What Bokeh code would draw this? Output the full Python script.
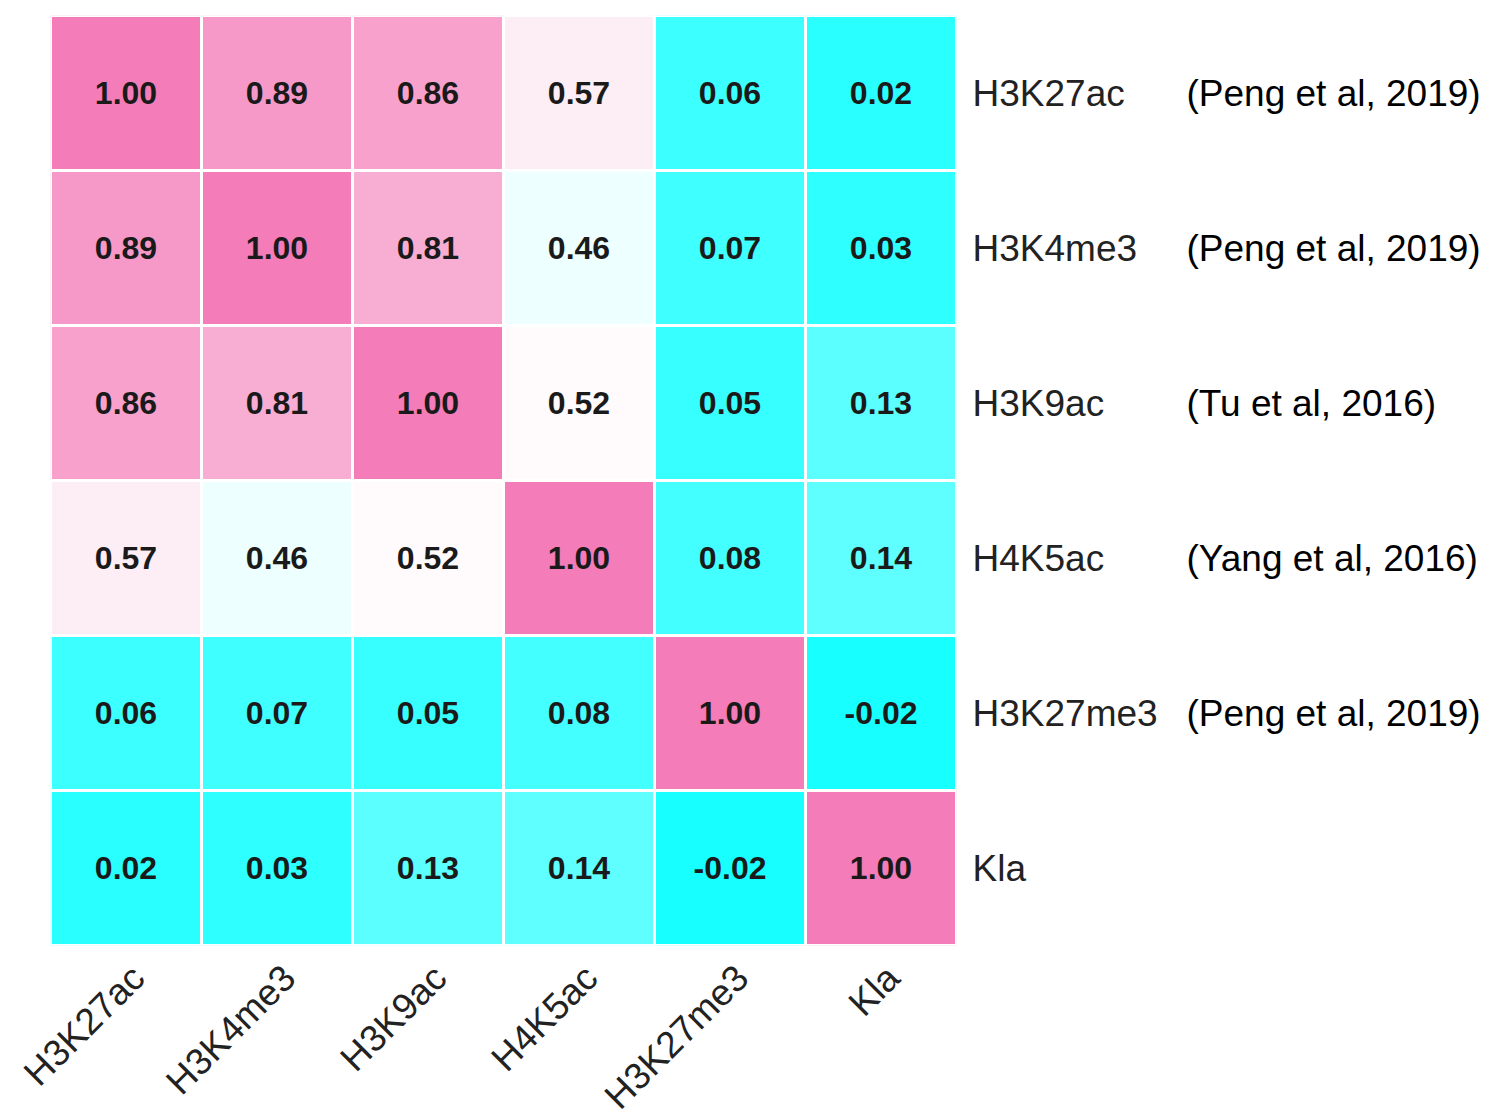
import numpy as np
from math import pi
from bokeh.plotting import figure
from bokeh.models import ColumnDataSource, Range1d, FixedTicker, LinearAxis
from bokeh.core.properties import value
from bokeh.embed import file_html
from bokeh.resources import INLINE

marks = ["H3K27ac", "H3K4me3", "H3K9ac", "H4K5ac", "H3K27me3", "Kla"]
corr = [
    [1.00, 0.89, 0.86, 0.57, 0.06, 0.02],
    [0.89, 1.00, 0.81, 0.46, 0.07, 0.03],
    [0.86, 0.81, 1.00, 0.52, 0.05, 0.13],
    [0.57, 0.46, 0.52, 1.00, 0.08, 0.14],
    [0.06, 0.07, 0.05, 0.08, 1.00, -0.02],
    [0.02, 0.03, 0.13, 0.14, -0.02, 1.00],
]
citations = ["(Peng et al, 2019)", "(Peng et al, 2019)", "(Tu et al, 2016)",
             "(Yang et al, 2016)", "(Peng et al, 2019)", ""]

# diverging colour scale: cyan -> white -> pink
stops_v = [-0.02, 0.5, 1.0]
stops_rgb = np.array([[24, 255, 255], [255, 255, 255], [244, 124, 184]], dtype=float)

def colour(v):
    r = np.interp(v, stops_v, stops_rgb[:, 0])
    g = np.interp(v, stops_v, stops_rgb[:, 1])
    b = np.interp(v, stops_v, stops_rgb[:, 2])
    return "#%02x%02x%02x" % (int(round(r)), int(round(g)), int(round(b)))

xs, ys, vals, cols, labels = [], [], [], [], []
for i, row in enumerate(corr):
    for j, v in enumerate(row):
        xs.append(j + 0.5)
        ys.append(i + 0.5)
        vals.append(v)
        cols.append(colour(v))
        labels.append("%.2f" % v)

src = ColumnDataSource(dict(x=xs, y=ys, v=vals, c=cols, t=labels))

p = figure(width=1471, height=1098, output_backend="svg", toolbar_location=None,
           x_range=Range1d(0, 6), y_range=Range1d(6, 0),
           x_axis_location="below", y_axis_location="right",
           min_border_left=50, min_border_top=15, min_border_right=515, min_border_bottom=153)
p.frame_width = 906
p.frame_height = 930

p.rect(x="x", y="y", width=1, height=1, source=src, fill_color="c",
       line_color="white", line_width=3)
p.text(x="x", y="y", text="t", source=src, text_align="center", text_baseline="middle",
       text_font=value("Liberation Sans"), text_font_style="bold", text_font_size="32px",
       text_color="#1a1a1a")

ticks = [k + 0.5 for k in range(len(marks))]

def style(ax, colour_, standoff):
    ax.axis_line_color = None
    ax.major_tick_line_color = None
    ax.minor_tick_line_color = None
    ax.major_label_text_font = "Liberation Sans"
    ax.major_label_text_font_size = "37px"
    ax.major_label_text_color = colour_
    ax.major_label_standoff = standoff

# row labels (right)
p.yaxis.ticker = FixedTicker(ticks=ticks)
p.yaxis.major_label_overrides = {t: m for t, m in zip(ticks, marks)}
style(p.yaxis[0], "#222222", 10)

# citations (second right axis)
cit_ax = LinearAxis(ticker=FixedTicker(ticks=ticks),
                    major_label_overrides={t: c for t, c in zip(ticks, citations)})
style(cit_ax, "black", 20)
p.add_layout(cit_ax, "right")

# column labels (below, rotated)
xticks = [t + 0.08 for t in ticks]
p.xaxis.ticker = FixedTicker(ticks=xticks)
p.xaxis.major_label_overrides = {t: m for t, m in zip(xticks, marks)}
style(p.xaxis[0], "#222222", 20)
p.xaxis.major_label_orientation = pi / 4

p.grid.visible = False
p.outline_line_color = None
p.background_fill_color = "white"
p.border_fill_color = "white"

open("out.html", "w").write(file_html(p, INLINE))
